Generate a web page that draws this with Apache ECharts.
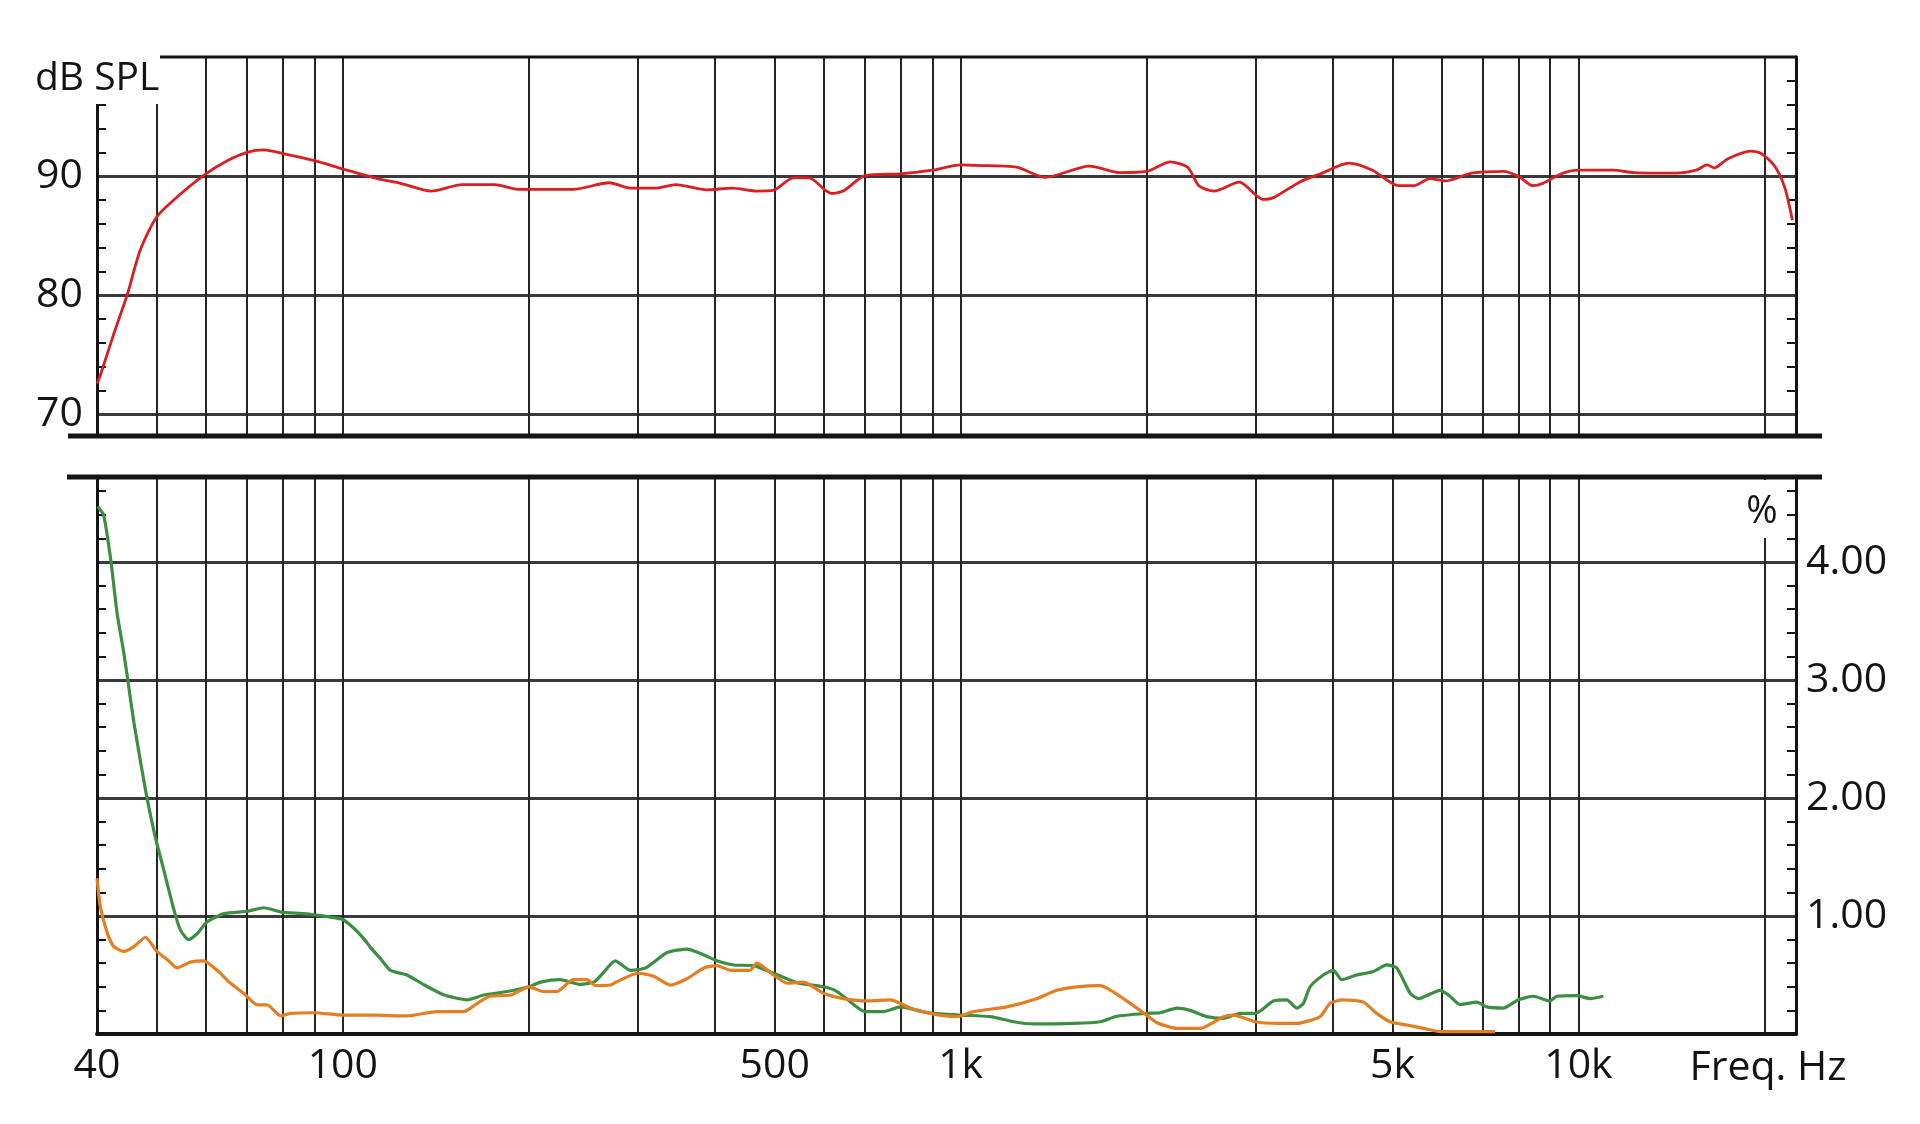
<!DOCTYPE html>
<html><head><meta charset="utf-8">
<script src="https://cdn.jsdelivr.net/npm/echarts@6/dist/echarts.min.js"></script>
<style>html,body{margin:0;padding:0;background:#fff}#c{width:1920px;height:1124px}</style>
</head><body><div id="c"></div>
<script>
// ---- axis ticks / labels ----
const gridFreqs = [50,60,70,80,90,100,200,300,400,500,600,700,800,900,1000,2000,3000,4000,5000,6000,7000,8000,9000,10000,20000];
const freqLabels = [40,100,500,1000,5000,10000];
const splLabels = [70,80,90];
const splMinorTicks = [72,74,76,78,82,84,86,88,92,94,96,98];
const pctLabels = [1,2,3,4];
const pctMinorTicks = [0.2,0.4,0.6,0.8,1.2,1.4,1.6,1.8,2.2,2.4,2.6,2.8,3.2,3.4,3.6,3.8,4.2,4.4,4.6];

// ---- SPL (red) ----
const splFreq = [40,40.5,42.6,44.8,47.0,50,54.6,60,65,70,74.5,80,90,100,113.6,124,139,156,176,192,236,270,292,321,346,388,426,469,497,536,568,618,648,700,799,900,1000,1060,1232,1371,1615,1813,2000,2185,2331,2430,2572,2825,3085,3209,3536,3822,4252,4641,5112,5420,5743,6090,6716,7560,8020,8430,8760,9384,10000,11385,12306,14361,15513,16137,16600,17430,19000,19760,20745,21560,22200];
const splDb = [72.6,73.3,76.8,80.1,83.8,86.6,88.5,90.2,91.3,92.0,92.2,91.9,91.3,90.6,89.8,89.4,88.75,89.3,89.3,88.9,88.9,89.45,89.0,89.0,89.3,88.85,89.0,88.75,88.8,89.85,89.85,88.55,88.8,90.05,90.2,90.5,90.95,90.9,90.75,89.9,90.85,90.3,90.4,91.2,90.75,89.2,88.75,89.5,88.05,88.2,89.5,90.2,91.1,90.5,89.2,89.2,89.8,89.6,90.25,90.4,89.95,89.2,89.4,90.2,90.5,90.5,90.3,90.25,90.5,90.95,90.7,91.45,92.1,91.9,90.9,89.1,86.3];

// ---- distortion, green ----
const thdFreq = [40.1,40.5,41.0,42.1,43.1,44.2,45.0,45.9,47.0,48.2,49.7,51.3,53.3,54.6,56.3,58.1,60.3,64.2,70,74.5,80,86.4,95.5,100,104,108,111,115,119.4,127,135,146,159,169,184.5,200,209,225,233.5,242,255,262,276,292,309,335,361,384,403,429,462,498,543,600,631,671,700,750,800,850,900,1000,1117,1218,1312,1523,1682,1790,2000,2104,2239,2352,2503,2663,2834,3000,3208,3372,3501,3588,3678,3865,4012,4139,4377,4656,4896,5082,5341,5508,5972,6196,6430,6844,7103,7559,7991,8452,8995,9224,9938,10445,10975];
const thdVal = [4.47,4.44,4.40,4.02,3.57,3.23,2.95,2.64,2.32,2.00,1.67,1.39,1.05,0.88,0.80,0.85,0.95,1.02,1.04,1.07,1.03,1.02,0.99,0.97,0.90,0.81,0.73,0.64,0.54,0.50,0.42,0.33,0.29,0.33,0.36,0.40,0.44,0.46,0.44,0.42,0.44,0.50,0.62,0.54,0.56,0.69,0.72,0.67,0.62,0.585,0.58,0.515,0.435,0.40,0.36,0.25,0.19,0.19,0.23,0.20,0.175,0.16,0.147,0.104,0.085,0.09,0.104,0.15,0.175,0.18,0.22,0.20,0.147,0.133,0.175,0.175,0.28,0.29,0.22,0.26,0.40,0.50,0.54,0.46,0.50,0.53,0.585,0.56,0.345,0.30,0.37,0.32,0.25,0.27,0.23,0.22,0.29,0.32,0.28,0.32,0.325,0.30,0.32];

// ---- distortion, orange ----
const h3Freq = [40,40.5,41.6,42.6,44.2,45.9,47.9,50,52.0,53.9,56.7,59.5,62.6,65.8,69.1,72.7,75.4,79.3,82.3,90,100,112,127,142,157,165,173,187,200,211,222,236,248,257,271,277,300,318.5,339,361,384,403,424,456,468,498,524,557,600,646,706,769,829,900,986,1049,1188,1312,1432,1542,1682,1834,2000,2078,2239,2442,2663,2764,3000,3249,3501,3818,3963,4165,4485,4715,4956,5276,5612,5972,7330];
const h3Val = [1.32,1.08,0.85,0.74,0.70,0.74,0.82,0.70,0.63,0.56,0.61,0.62,0.54,0.43,0.345,0.246,0.246,0.153,0.175,0.18,0.16,0.16,0.153,0.19,0.19,0.26,0.32,0.33,0.40,0.36,0.36,0.46,0.46,0.41,0.415,0.44,0.515,0.49,0.415,0.47,0.56,0.58,0.54,0.54,0.60,0.50,0.43,0.44,0.345,0.30,0.28,0.29,0.22,0.17,0.147,0.19,0.23,0.29,0.37,0.40,0.41,0.30,0.16,0.096,0.048,0.048,0.147,0.16,0.104,0.09,0.09,0.147,0.26,0.29,0.27,0.175,0.104,0.076,0.048,0.02,0.02];

const zip = (a, b) => a.map((v, i) => [v, b[i]]);
const FONT = 'Open Sans';
const INK = '#141414';
const fmtF = v => { v = Math.round(v); return v >= 1000 ? (v / 1000) + 'k' : String(v); };

function xAx(grid, withLabels) {
  return {
    type: 'log', logBase: 10, min: 40, max: 22500, gridIndex: grid,
    axisLine: { show: withLabels, onZero: false, lineStyle: { color: INK, width: 4 } },
    axisTick: { show: false, customValues: gridFreqs },
    splitLine: { show: true, lineStyle: { color: '#262626', width: 2 } },
    axisLabel: withLabels ? { show: true, customValues: freqLabels, formatter: fmtF, fontFamily: FONT, fontSize: 41, color: INK, margin: 12 } : { show: false }
  };
}
function yAx(grid, min, max, pos, opts) {
  return Object.assign({
    type: 'value', gridIndex: grid, min: min, max: max, position: pos,
    axisLine: { show: true, onZero: false, lineStyle: { color: INK, width: 3 } },
    axisTick: { show: true, inside: true, length: 9, customValues: opts.minor, lineStyle: { color: INK, width: 2 } },
    axisLabel: { show: false },
    splitLine: { show: false }
  }, opts.extra || {});
}
function gridLines(grid, min, max, vals) {
  return {
    type: 'value', gridIndex: grid, min: min, max: max, position: 'left',
    axisLine: { show: false }, axisTick: { show: false, customValues: vals }, axisLabel: { show: false },
    splitLine: { show: true, lineStyle: { color: '#3a3a3a', width: 3 } }
  };
}

const chart = echarts.init(document.getElementById('c'), null, { renderer: 'canvas' });
chart.setOption({
  animation: false,
  backgroundColor: '#ffffff',
  grid: [
    { left: 97, width: 1699, top: 57, height: 379 },
    { left: 97, width: 1699, top: 477, height: 557 }
  ],
  xAxis: [ xAx(0, false), xAx(1, true) ],
  yAxis: [
    gridLines(0, 68.2, 100, splLabels),
    yAx(0, 68.2, 100, 'left', { minor: splMinorTicks, extra: {
      axisLabel: { show: true, customValues: splLabels, fontFamily: FONT, fontSize: 41, color: INK, margin: 14 } } }),
    yAx(0, 68.2, 100, 'right', { minor: splMinorTicks }),
    gridLines(1, 0, 4.72, pctLabels),
    yAx(1, 0, 4.72, 'left', { minor: pctMinorTicks }),
    yAx(1, 0, 4.72, 'right', { minor: pctMinorTicks, extra: {
      axisLabel: { show: true, customValues: pctLabels, formatter: v => Number(v).toFixed(2), fontFamily: FONT, fontSize: 41, color: INK, margin: 10 } } })
  ],
  series: [
    { type: 'line', name: 'SPL', xAxisIndex: 0, yAxisIndex: 1, data: zip(splFreq, splDb),
      showSymbol: false, smooth: 0.25, z: 5, lineStyle: { color: '#d91f1f', width: 2.8 } },
    { type: 'line', name: 'THD', xAxisIndex: 1, yAxisIndex: 4, data: zip(thdFreq, thdVal),
      showSymbol: false, smooth: 0.2, z: 5, lineStyle: { color: '#3c8f40', width: 3.2 } },
    { type: 'line', name: 'H3', xAxisIndex: 1, yAxisIndex: 4, data: zip(h3Freq, h3Val),
      showSymbol: false, smooth: 0.2, z: 6, lineStyle: { color: '#e47e22', width: 3.2 } }
  ],
  graphic: [
    { type: 'line', z: 50, shape: { x1: 160, y1: 57, x2: 1797, y2: 57 }, style: { stroke: INK, lineWidth: 3 } },
    { type: 'line', z: 50, shape: { x1: 68, y1: 436, x2: 1822, y2: 436 }, style: { stroke: INK, lineWidth: 5 } },
    { type: 'line', z: 50, shape: { x1: 67, y1: 477, x2: 1822, y2: 477 }, style: { stroke: INK, lineWidth: 5 } },
    { type: 'rect', z: 60, shape: { x: 18, y: 38, width: 142, height: 66 }, style: { fill: '#ffffff' } },
    { type: 'text', z: 61, x: 35, y: 79, style: { text: 'dB SPL', font: '39px "Open Sans"', fill: INK, textVerticalAlign: 'middle' } },
    { type: 'rect', z: 60, shape: { x: 1741, y: 480, width: 45, height: 58 }, style: { fill: '#ffffff' } },
    { type: 'text', z: 61, x: 1762, y: 512, style: { text: '%', font: '38px "Open Sans"', fill: INK, textAlign: 'center', textVerticalAlign: 'middle' } },
    { type: 'text', z: 61, x: 1768, y: 1068, style: { text: 'Freq. Hz', font: '41px "Open Sans"', fill: INK, textAlign: 'center', textVerticalAlign: 'middle' } }
  ]
});
</script></body></html>
